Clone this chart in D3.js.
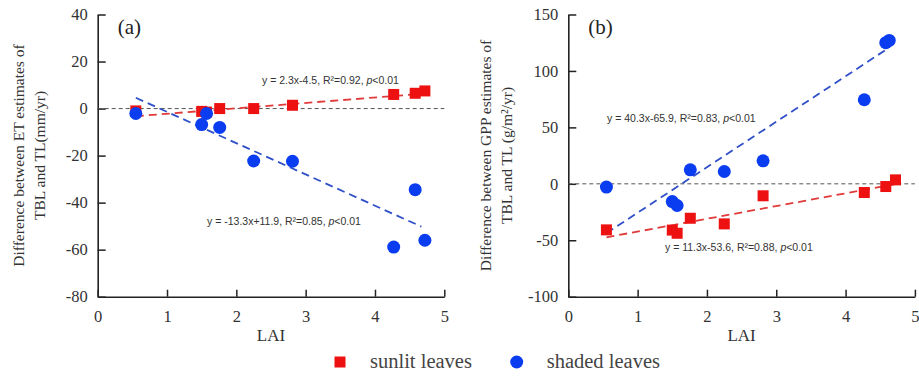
<!DOCTYPE html>
<html>
<head>
<meta charset="utf-8">
<script src="https://cdn.jsdelivr.net/npm/d3@7"></script>
<style>
  body { margin: 0; background: #fff; }
  svg { display: block; }
</style>
</head>
<body>
<script>
// LAI of each site
const lai = [0.55, 1.5, 1.57, 1.76, 2.25, 2.81, 4.27, 4.58, 4.72];
const laiGppShaded = [0.55, 1.5, 1.57, 1.76, 2.25, 2.81, 4.27, 4.58, 4.63];

// (a) ET difference (mm/yr)
const etSunlit = [-1, -1.2, -1.5, 0, 0, 1.4, 6, 6.5, 7.5];
const etShaded = [-2.1, -6.8, -2.1, -8, -22.3, -22.4, -58.9, -34.5, -56];

// (b) GPP difference (g/m2/yr)
const gppSunlit = [-40.8, -41, -43.8, -30.5, -35.5, -10.6, -7.7, -2.4, 3.5];
const gppShaded = [-2.9, -15.7, -19.2, 12.4, 10.9, 20.4, 74.5, 125, 127];

// fitted lines: [slope, intercept, xmin, xmax]
const etSunlitFit = [2.3, -4.5, 0.55, 4.72];
const etShadedFit = [-13.3, 11.9, 0.55, 4.67];
const gppSunlitFit = [11.3, -53.6, 0.55, 4.72];
const gppShadedFit = [40.3, -65.9, 0.55, 4.62];

const xTicks = [0, 1, 2, 3, 4, 5];
const etTicks = [40, 20, 0, -20, -40, -60, -80];
const gppTicks = [150, 100, 50, 0, -50, -100];

const RED = "#ee1111", BLUE = "#0a3cf0";
const RED_LINE = "#e03a3a", BLUE_LINE = "#3050c8";
const SERIF = "'Liberation Serif', 'Times New Roman', serif";

const svg = d3.select("body").append("svg")
    .attr("width", 919)
    .attr("height", 376);

function panel(opt) {
    const x = d3.scaleLinear().domain([0, 5]).range([opt.left, opt.left + 346.6]);
    const y = d3.scaleLinear().domain(opt.domain).range([296.7, 14.5]);
    const g = svg.append("g");

    // axes with inward ticks
    const ax = g.append("g")
        .attr("transform", `translate(0,${y(opt.domain[0])})`)
        .call(d3.axisBottom(x).tickValues(xTicks).tickSize(-7).tickSizeOuter(0).tickPadding(14).tickFormat(d => String(d)));
    const ay = g.append("g")
        .attr("transform", `translate(${x(0)},0)`)
        .call(d3.axisLeft(y).tickValues(opt.ticks).tickSize(-8).tickSizeOuter(0).tickPadding(10).tickFormat(d => String(d)));
    [ax, ay].forEach(a => {
        a.attr("font-family", null).attr("font-size", null);
        a.select(".domain").attr("stroke", "#222").attr("stroke-width", 1.6);
        a.selectAll(".tick line").attr("stroke", "#222").attr("stroke-width", 1.5);
        a.selectAll(".tick text")
            .attr("fill", "#333")
            .style("font-family", SERIF)
            .style("font-size", "16.5px");
    });

    // zero line
    g.append("line")
        .attr("x1", x(0)).attr("x2", x(5))
        .attr("y1", y(0)).attr("y2", y(0))
        .attr("stroke", "#555").attr("stroke-width", 1)
        .attr("stroke-dasharray", "4,3");

    // fitted lines
    opt.fits.forEach(f => {
        const [a, b, x0, x1] = f.fit;
        g.append("line")
            .attr("x1", x(x0)).attr("y1", y(a * x0 + b))
            .attr("x2", x(x1)).attr("y2", y(a * x1 + b))
            .attr("stroke", f.color).attr("stroke-width", 1.8)
            .attr("stroke-dasharray", "8,5");
    });

    // points
    g.selectAll(".sq").data(opt.sunlit).join("rect")
        .attr("x", (d, i) => x(lai[i]) - 5.5)
        .attr("y", d => y(d) - 5.5)
        .attr("width", 11).attr("height", 11)
        .attr("fill", RED);
    g.selectAll(".ci").data(opt.shaded).join("circle")
        .attr("cx", (d, i) => x(opt.shadedLai[i]))
        .attr("cy", d => y(d))
        .attr("r", 6.5)
        .attr("fill", BLUE);

    // equations
    opt.eqs.forEach(e => {
        const t = g.append("text")
            .attr("x", e.x).attr("y", e.y)
            .attr("fill", "#333")
            .style("font-family", "'Liberation Sans', Arial, sans-serif")
            .style("font-size", "10.5px");
        t.append("tspan").text(e.text);
        t.append("tspan").style("font-style", "italic").text("p");
        t.append("tspan").text("<0.01");
    });

    // panel letter
    g.append("text")
        .attr("x", opt.left + 20).attr("y", 34)
        .attr("fill", "#222")
        .style("font-family", SERIF)
        .style("font-size", "21px")
        .text(opt.letter);

    // x label
    g.append("text")
        .attr("x", x(2.5)).attr("y", 341)
        .attr("text-anchor", "middle")
        .attr("fill", "#333")
        .style("font-family", SERIF)
        .style("font-size", "17px")
        .text("LAI");

    // y label (two lines)
    opt.ylabel.forEach((s, i) => {
        g.append("text")
            .attr("transform", `translate(${opt.ylabelX[i]},155.5) rotate(-90)`)
            .attr("text-anchor", "middle")
            .attr("dominant-baseline", "central")
            .attr("fill", "#333")
            .style("font-family", SERIF)
            .style("font-size", "15.5px")
            .text(s);
    });
}

panel({
    left: 97.7,
    domain: [-80, 40],
    ticks: etTicks,
    sunlit: etSunlit,
    shaded: etShaded,
    shadedLai: lai,
    fits: [{ fit: etSunlitFit, color: RED_LINE }, { fit: etShadedFit, color: BLUE_LINE }],
    eqs: [
        { x: 262, y: 84, text: "y = 2.3x-4.5, R²=0.92, " },
        { x: 207, y: 225, text: "y = -13.3x+11.9, R²=0.85, " }
    ],
    letter: "(a)",
    ylabel: ["Difference between ET estimates of", "TBL and TL(mm/yr)"],
    ylabelX: [18, 39]
});

panel({
    left: 568.3,
    domain: [-100, 150],
    ticks: gppTicks,
    sunlit: gppSunlit,
    shaded: gppShaded,
    shadedLai: laiGppShaded,
    fits: [{ fit: gppSunlitFit, color: RED_LINE }, { fit: gppShadedFit, color: BLUE_LINE }],
    eqs: [
        { x: 607, y: 122, text: "y = 40.3x-65.9, R²=0.83, " },
        { x: 665, y: 251, text: "y = 11.3x-53.6, R²=0.88, " }
    ],
    letter: "(b)",
    ylabel: ["Difference between GPP estimates of", "TBL and TL (g/m²/yr)"],
    ylabelX: [485, 506]
});

// legend
const legend = svg.append("g").style("font-family", SERIF).style("font-size", "20.5px");
legend.append("rect").attr("x", 334.5).attr("y", 356.5).attr("width", 11).attr("height", 11).attr("fill", RED);
legend.append("text").attr("x", 370).attr("y", 368).attr("fill", "#444").text("sunlit leaves");
legend.append("circle").attr("cx", 516.7).attr("cy", 362).attr("r", 6.5).attr("fill", BLUE);
legend.append("text").attr("x", 546.7).attr("y", 368).attr("fill", "#444").text("shaded leaves");
</script>
</body>
</html>
